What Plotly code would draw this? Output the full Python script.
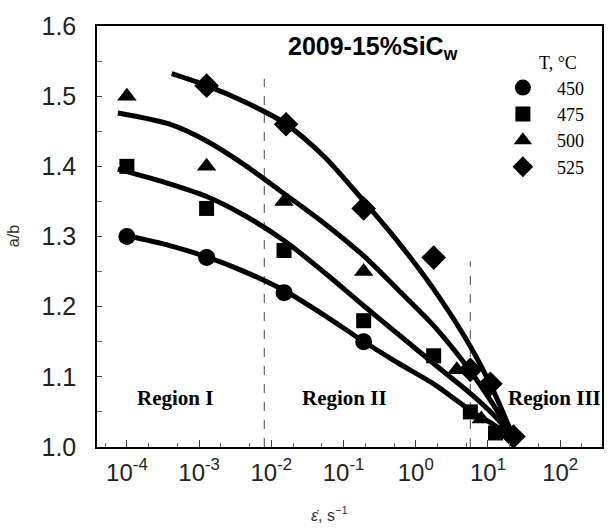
import plotly.graph_objects as go

# Measured aspect ratio a/b versus strain rate for each deformation temperature
rate_450 = [1.0e-4, 1.27e-3, 1.5e-2, 0.19]
ab_450 = [1.30, 1.27, 1.22, 1.15]

rate_475 = [1.0e-4, 1.27e-3, 1.5e-2, 0.19, 1.77, 5.7, 12.7]
ab_475 = [1.40, 1.34, 1.28, 1.18, 1.13, 1.05, 1.02]

rate_500 = [1.0e-4, 1.27e-3, 1.5e-2, 0.19, 3.7, 8.1]
ab_500 = [1.50, 1.40, 1.35, 1.25, 1.11, 1.04]

rate_525 = [1.27e-3, 1.6e-2, 0.19, 1.77, 5.7, 10.8, 22.5]
ab_525 = [1.515, 1.46, 1.34, 1.27, 1.11, 1.09, 1.015]

# Fitted trend curves
fit_rate_450 = [1.03e-4, 3.92e-4, 1.27e-3, 4.25e-3, 1.51e-2, 5.38e-2, 0.192, 0.583, 1.77, 5.74, 11.9, 22.5]
fit_ab_450 = [1.301, 1.287, 1.271, 1.250, 1.223, 1.188, 1.150, 1.119, 1.090, 1.052, 1.032, 1.014]

fit_rate_475 = [7.5e-5, 3.92e-4, 1.27e-3, 4.25e-3, 1.51e-2, 5.38e-2, 0.192, 0.583, 1.77, 5.74, 11.9, 22.5]
fit_ab_475 = [1.396, 1.375, 1.357, 1.330, 1.294, 1.249, 1.201, 1.160, 1.119, 1.076, 1.046, 1.014]

fit_rate_500 = [7.5e-5, 3.92e-4, 1.27e-3, 4.25e-3, 1.51e-2, 5.38e-2, 0.192, 0.583, 1.77, 5.74, 11.9, 22.5]
fit_ab_500 = [1.476, 1.460, 1.436, 1.402, 1.361, 1.319, 1.272, 1.223, 1.173, 1.108, 1.060, 1.014]

fit_rate_525 = [4.18e-4, 1.27e-3, 4.25e-3, 1.51e-2, 5.38e-2, 0.192, 0.583, 1.77, 5.74, 11.9, 22.5]
fit_ab_525 = [1.532, 1.515, 1.492, 1.462, 1.414, 1.350, 1.291, 1.225, 1.143, 1.080, 1.014]

# Boundaries between deformation regions
boundary_rate = [8.0e-3, 5.7]
boundary_top = [1.525, 1.265]

# Axis ticks
x_tickvals = [1e-4, 1e-3, 1e-2, 1e-1, 1e0, 1e1, 1e2]
x_ticktext = ["10<sup>-4</sup>", "10<sup>-3</sup>", "10<sup>-2</sup>", "10<sup>-1</sup>",
              "10<sup>0</sup>", "10<sup>1</sup>", "10<sup>2</sup>"]

temps = ["450", "475", "500", "525"]
symbols = ["circle", "square", "triangle-up", "diamond"]
sizes = [17, 15, 17, 19]

fig = go.Figure()

for r, t in zip(boundary_rate, boundary_top):
    fig.add_trace(go.Scatter(
        x=[r, r], y=[1.0, t], mode="lines",
        line=dict(color="#666666", width=1.2, dash="dash"),
        showlegend=False, hoverinfo="skip"))

fits = [(fit_rate_450, fit_ab_450), (fit_rate_475, fit_ab_475),
        (fit_rate_500, fit_ab_500), (fit_rate_525, fit_ab_525)]
for fx, fy in fits:
    fig.add_trace(go.Scatter(
        x=fx, y=fy, mode="lines",
        line=dict(color="black", width=5, shape="spline", smoothing=0.8),
        showlegend=False, hoverinfo="skip"))

data = [(rate_450, ab_450), (rate_475, ab_475), (rate_500, ab_500), (rate_525, ab_525)]
for (dx, dy), name, sym, sz in zip(data, temps, symbols, sizes):
    fig.add_trace(go.Scatter(
        x=dx, y=dy, mode="markers", name=name,
        marker=dict(symbol=sym, size=sz, color="black")))

fig.update_xaxes(
    type="log", range=[-4.414, 2.579], tickvals=x_tickvals, ticktext=x_ticktext,
    showline=True, mirror=True, linecolor="black", linewidth=1.5,
    ticks="inside", ticklen=7, tickcolor="#444444",
    tickfont=dict(family="Arial", size=24, color="#222222"),
    ticklabelstandoff=3,
    minor=dict(ticks="inside", ticklen=4, tickcolor="#666666", showgrid=False),
    showgrid=False, zeroline=False)

fig.update_yaxes(
    range=[1.0, 1.6], dtick=0.1, tickformat=".1f",
    showline=True, mirror=True, linecolor="black", linewidth=1.5,
    ticks="inside", ticklen=5, tickcolor="#444444",
    tickfont=dict(family="Arial", size=25, color="#222222"),
    ticklabelstandoff=14,
    minor=dict(dtick=0.05, ticks="inside", ticklen=5, tickcolor="#666666", showgrid=False),
    showgrid=False, zeroline=False)

serif = "Liberation Serif, Times New Roman, serif"


def note(text, x, y, family, size, color="black", angle=0):
    return dict(text=text, x=x, y=y, xref="paper", yref="paper",
                xanchor="center", yanchor="middle", textangle=angle,
                showarrow=False, font=dict(family=family, size=size, color=color))


annotations = [
    note("<b>2009-15%SiC<sub>w</sub></b>", 0.546, 0.947, "Arial", 25),
    note("<b>Region I</b>", 0.154, 0.117, serif, 21),
    note("<b>Region II</b>", 0.491, 0.117, serif, 21),
    note("<b>Region III</b>", 0.905, 0.117, serif, 21),
    note("T, °C", 0.913, 0.912, serif, 18),
    note("a/b", -0.165, 0.50, "Arial", 16, "#333333", -90),
    note("<i>ε̇</i>, s<sup>−1</sup>", 0.46, -0.16, "Arial", 16, "#333333"),
]

fig.update_layout(
    width=616, height=528,
    margin=dict(l=97, r=12, t=20, b=81),
    paper_bgcolor="white", plot_bgcolor="white",
    annotations=annotations,
    legend=dict(x=0.776, y=0.897, xanchor="left", yanchor="top",
                bgcolor="rgba(0,0,0,0)", borderwidth=0,
                font=dict(family=serif, size=18, color="black"),
                itemwidth=58, tracegroupgap=0),
)

fig.write_html("out.html")
